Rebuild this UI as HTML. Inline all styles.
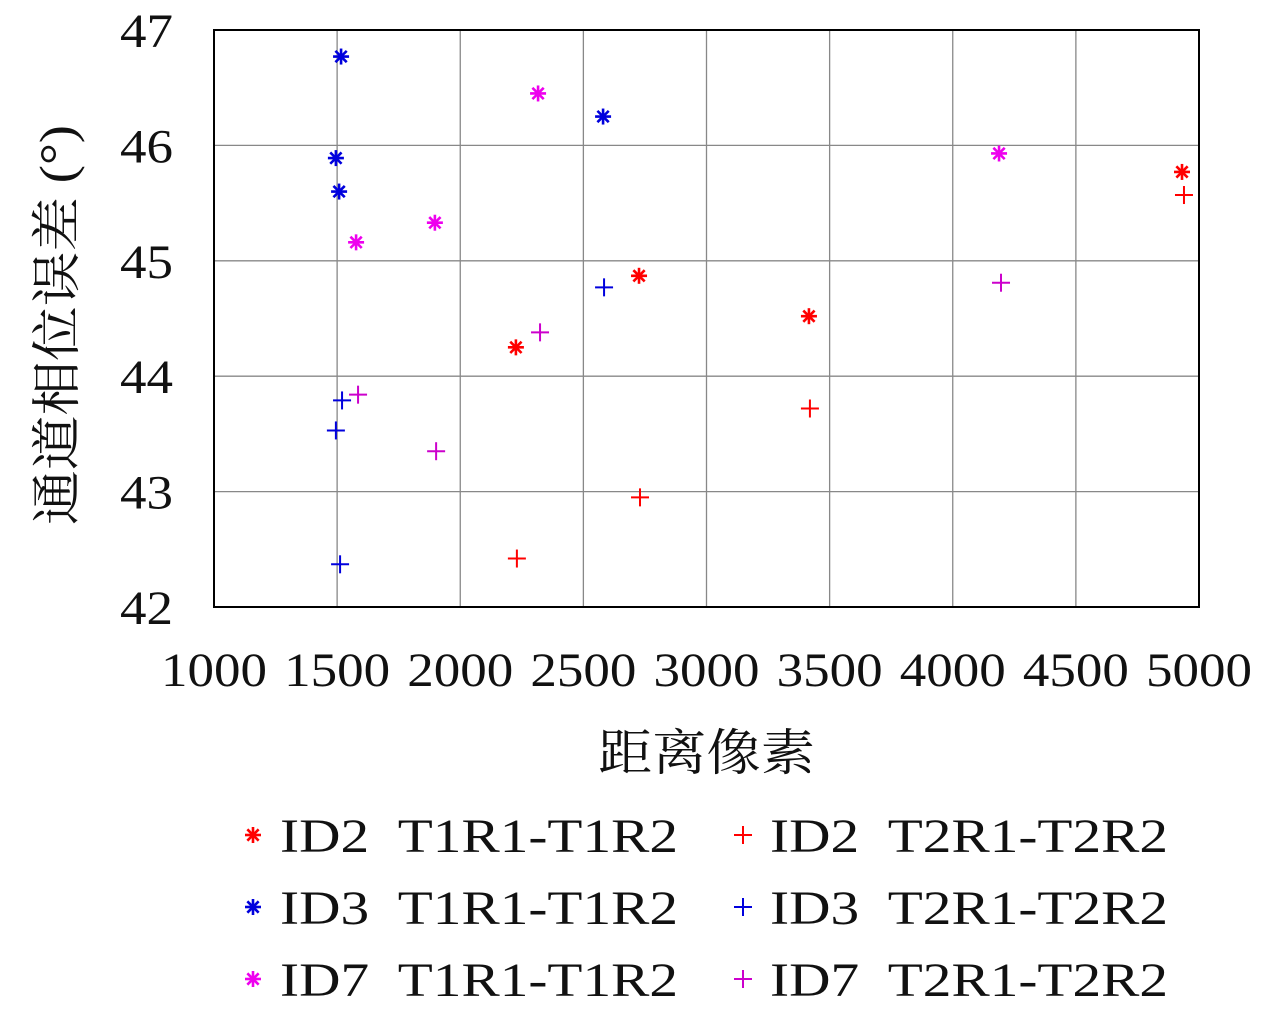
<!DOCTYPE html>
<html><head><meta charset="utf-8"><style>
body{margin:0;background:#fff}
svg text{font-family:"Liberation Serif","Noto Serif CJK SC",serif;fill:#111}
</style></head><body>
<svg id="chart" width="1280" height="1014" viewBox="0 0 1280 1014" xmlns="http://www.w3.org/2000/svg">
<g id="grid"></g>
<g id="marks"></g>
<rect x="214" y="30" width="985" height="577" fill="none" stroke="#000" stroke-width="2"/>
<g id="ticks"></g>
<text x="598" y="770" font-size="50" textLength="217" lengthAdjust="spacingAndGlyphs">距离像素</text>
<text transform="translate(74,325) rotate(-90)" font-size="50" text-anchor="middle" textLength="400" lengthAdjust="spacingAndGlyphs">通道相位误差 (°)</text>
<g id="legend"></g>
</svg>
<script>
const xTicks=[1000,1500,2000,2500,3000,3500,4000,4500,5000];
const yTicks=[42,43,44,45,46,47];
const seriesNames=["ID2 T1R1-T1R2","ID2 T2R1-T2R2","ID3 T1R1-T1R2","ID3 T2R1-T2R2","ID7 T1R1-T1R2","ID7 T2R1-T2R2"];
const seriesColors=["#ff0000","#ff0000","#0000dd","#0000dd","#ee00ee","#cc00cc"];
const seriesMarkers=["star","plus","star","plus","star","plus"];
const id2T1x=[2226,2726,3416,4931], id2T1y=[44.25,44.87,44.52,45.77];
const id2T2x=[2230,2730,3420,4939], id2T2y=[42.42,42.95,43.72,45.57];
const id3T1x=[1516,1495,1508,2580], id3T1y=[46.77,45.89,45.60,46.25];
const id3T2x=[1512,1495,1520,2584], id3T2y=[42.37,43.53,43.79,44.77];
const id7T1x=[2316,1897,1577,4188], id7T1y=[46.45,45.33,45.16,45.93];
const id7T2x=[2324,1902,1585,4196], id7T2y=[44.38,43.35,43.84,44.81];
const seriesX=[id2T1x,id2T2x,id3T1x,id3T2x,id7T1x,id7T2x];
const seriesY=[id2T1y,id2T2y,id3T1y,id3T2y,id7T1y,id7T2y];
const NS="http://www.w3.org/2000/svg";
const X=v=>214+(v-1000)*985/4000, Y=v=>607-(v-42)*577/5;
function mk(tag,attrs,parent){const e=document.createElementNS(NS,tag);for(const k in attrs)e.setAttribute(k,attrs[k]);parent.appendChild(e);return e;}
const grid=document.getElementById('grid'),ticks=document.getElementById('ticks'),marks=document.getElementById('marks'),legend=document.getElementById('legend');
xTicks.forEach(t=>{const l=mk('line',{x1:X(t),x2:X(t),y1:30,y2:607,stroke:'#888','stroke-width':1.3},grid);


const tx=mk('text',{x:X(t)-53,y:686,'font-size':48,textLength:106,lengthAdjust:'spacingAndGlyphs'},ticks);tx.textContent=t;

});
yTicks.forEach(t=>{const l=mk('line',{x1:214,x2:1199,y1:Y(t),y2:Y(t),stroke:'#888','stroke-width':1.3},grid);


const tx=mk('text',{x:120,y:Y(t)+17,'font-size':48,textLength:53,lengthAdjust:'spacingAndGlyphs'},ticks);tx.textContent=t;

});
function marker(type,cx,cy,color,parent){const g=mk('g',{stroke:color,'stroke-width':type==='star'?2.6:2},parent);
if(type==='plus'){mk('line',{x1:cx-9,x2:cx+9,y1:cy,y2:cy},g);mk('line',{x1:cx,x2:cx,y1:cy-9,y2:cy+9},g);}
else{for(let a=0;a<4;a++){const r=8,an=a*Math.PI/4;mk('line',{x1:cx-r*Math.cos(an),x2:cx+r*Math.cos(an),y1:cy-r*Math.sin(an),y2:cy+r*Math.sin(an)},g);}}
return g;}
seriesX.forEach((xs,i)=>{xs.forEach((v,j)=>{const g=marker(seriesMarkers[i],X(v),Y(seriesY[i][j]),seriesColors[i],marks);

});});
seriesNames.forEach((n,i)=>{const col=i%2,row=Math.floor(i/2);const mx=col?743:253,my=835+row*72;
const g=mk('g',{},legend);


marker(seriesMarkers[i],mx,my,seriesColors[i],g);
const t=mk('text',{x:mx+27,y:my+17,'font-size':48,textLength:398,lengthAdjust:'spacingAndGlyphs'},g);t.textContent=n.replace(' ','\u00a0\u00a0');});
</script>
</body></html>
